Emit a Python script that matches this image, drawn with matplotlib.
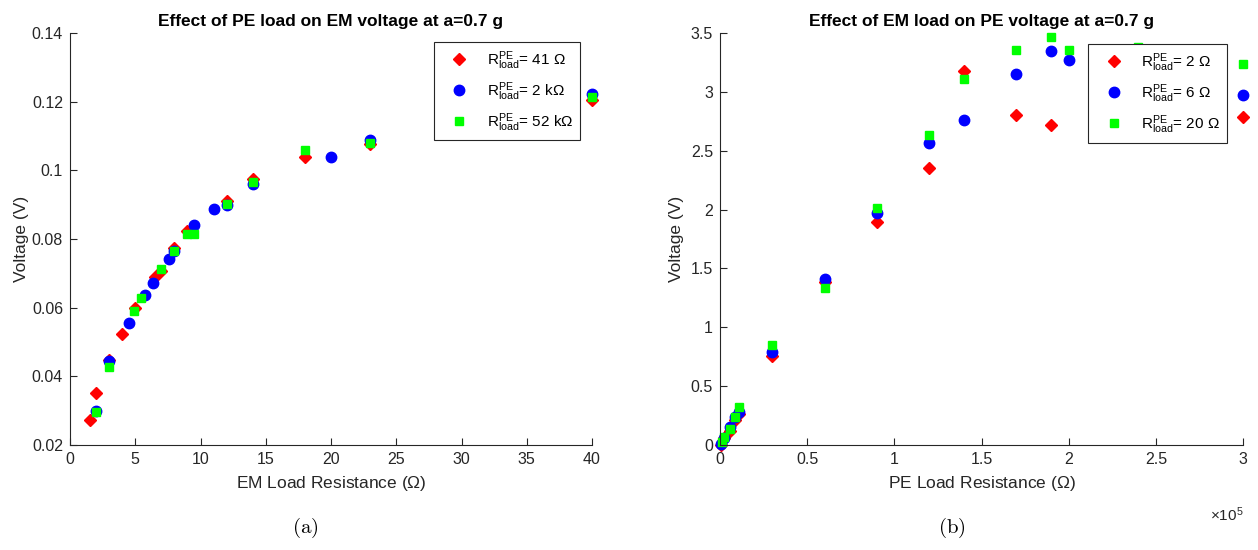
import numpy as np
import matplotlib
matplotlib.use("Agg")
from matplotlib import pyplot as plt
from matplotlib.ticker import FuncFormatter, FixedLocator

plt.rcParams['font.family'] = ['Liberation Sans', 'DejaVu Sans']
plt.rcParams['mathtext.fontset'] = 'custom'
plt.rcParams['mathtext.rm'] = 'Liberation Sans'
plt.rcParams['mathtext.it'] = 'Liberation Sans:italic'

# ---- (a) PE load effect on EM voltage ----
em_r_41 = [1.5, 2, 3, 4, 5, 6.5, 7, 8, 9, 12, 14, 18, 23, 40]
em_v_41 = [0.0273, 0.0352, 0.0447, 0.0523, 0.0598, 0.0690, 0.0708, 0.0773, 0.0823,
           0.0910, 0.0976, 0.1040, 0.1076, 0.1205]

em_r_2k = [2, 3, 4.5, 5.75, 6.35, 7.6, 8, 9.5, 11, 12, 14, 20, 23, 40]
em_v_2k = [0.0300, 0.0445, 0.0556, 0.0637, 0.0672, 0.0743, 0.0765, 0.0842, 0.0886,
           0.0898, 0.0960, 0.1040, 0.1088, 0.1222]

em_r_52k = [2, 3, 4.9, 5.45, 7, 8, 9, 9.5, 12, 14, 18, 23, 40]
em_v_52k = [0.0295, 0.0428, 0.0590, 0.0629, 0.0713, 0.0764, 0.0815, 0.0815, 0.0902,
            0.0965, 0.1060, 0.1080, 0.1213]

# ---- (b) EM load effect on PE voltage ----
pe_r_2 = [500, 2200, 6000, 8600, 11000, 3e4, 6e4, 9e4, 1.2e5, 1.4e5, 1.7e5, 1.9e5,
          2.4e5, 2.7e5, 3e5]
pe_v_2 = [0.0, 0.057, 0.122, 0.213, 0.264, 0.753, 1.386, 1.895, 2.354, 3.175, 2.807,
          2.722, 2.80, 2.62, 2.784]

pe_r_6 = [500, 2200, 6000, 8600, 11000, 3e4, 6e4, 9e4, 1.2e5, 1.4e5, 1.7e5, 1.9e5,
          2e5, 2.4e5, 2.7e5, 3e5]
pe_v_6 = [0.006, 0.057, 0.15, 0.24, 0.284, 0.79, 1.406, 1.97, 2.566, 2.758, 3.152,
          3.344, 3.27, 3.2, 3.05, 2.97]

pe_r_20 = [1200, 2200, 6000, 8600, 11000, 3e4, 6e4, 9e4, 1.2e5, 1.4e5, 1.7e5, 1.9e5,
           2e5, 2.4e5, 2.7e5, 3e5]
pe_v_20 = [0.023, 0.065, 0.136, 0.236, 0.321, 0.852, 1.33, 2.014, 2.63, 3.11, 3.356,
           3.463, 3.356, 3.38, 3.25, 3.237]

labels_a = [r'R$^{\mathrm{PE}}_{\mathrm{load}}$= 41 $\Omega$',
            r'R$^{\mathrm{PE}}_{\mathrm{load}}$= 2 k$\Omega$',
            r'R$^{\mathrm{PE}}_{\mathrm{load}}$= 52 k$\Omega$']
labels_b = [r'R$^{\mathrm{PE}}_{\mathrm{load}}$= 2 $\Omega$',
            r'R$^{\mathrm{PE}}_{\mathrm{load}}$= 6 $\Omega$',
            r'R$^{\mathrm{PE}}_{\mathrm{load}}$= 20 $\Omega$']

W, H = 1258, 550
fig = plt.figure(figsize=(W / 100, H / 100), dpi=100)
ax1 = fig.add_axes([70 / W, 105 / H, 522 / W, 412 / H])
ax2 = fig.add_axes([720 / W, 105 / H, 523 / W, 412 / H])

grey = '#262626'
fmt = FuncFormatter(lambda v, p: '%g' % round(v, 6))


def style(ax):
    for s in ['top', 'right']:
        ax.spines[s].set_visible(False)
    for s in ['left', 'bottom']:
        ax.spines[s].set_color(grey)
        ax.spines[s].set_linewidth(0.8)
    ax.tick_params(direction='in', length=5, width=0.8, color=grey,
                   labelcolor=grey, labelsize=11.5, pad=5)


def scat(ax, xs, ys, labels):
    ax.plot(xs[0], ys[0], 'D', color='red', ms=6, ls='none', label=labels[0], clip_on=False)
    ax.plot(xs[1], ys[1], 'o', color='blue', ms=7.5, ls='none', label=labels[1], clip_on=False)
    ax.plot(xs[2], ys[2], 's', color='#00ff00', ms=5.5, ls='none', label=labels[2], clip_on=False)


def legend(ax, anchor):
    leg = ax.legend(loc='upper right', bbox_to_anchor=anchor, fontsize=11,
                    numpoints=1, handlelength=2.4, handletextpad=0.6, borderpad=0.45,
                    labelspacing=0.55, fancybox=False, framealpha=1, borderaxespad=0)
    leg.get_frame().set_edgecolor(grey)
    leg.get_frame().set_linewidth(0.8)
    return leg


# subplot (a)
scat(ax1, [em_r_41, em_r_2k, em_r_52k], [em_v_41, em_v_2k, em_v_52k], labels_a)
ax1.set_xlim(0, 40)
ax1.set_ylim(0.02, 0.14)
ax1.xaxis.set_major_locator(FixedLocator(np.arange(0, 41, 5)))
ax1.yaxis.set_major_locator(FixedLocator(np.arange(0.02, 0.141, 0.02)))
ax1.yaxis.set_major_formatter(fmt)
ax1.xaxis.set_major_formatter(fmt)
style(ax1)
ax1.set_title('Effect of PE load on EM voltage at a=0.7 g', fontsize=12.5,
              fontweight='bold', pad=5)
ax1.set_xlabel(r'EM Load Resistance ($\Omega$)', fontsize=12.5, color=grey, labelpad=5)
ax1.set_ylabel('Voltage (V)', fontsize=12.5, color=grey, labelpad=2)
legend(ax1, (0.977, 0.978))

# subplot (b)
scat(ax2, [pe_r_2, pe_r_6, pe_r_20], [pe_v_2, pe_v_6, pe_v_20], labels_b)
ax2.set_xlim(0, 3e5)
ax2.set_ylim(0, 3.5)
ax2.xaxis.set_major_locator(FixedLocator(np.arange(0, 3.01e5, 0.5e5)))
ax2.yaxis.set_major_locator(FixedLocator(np.arange(0, 3.51, 0.5)))
ax2.xaxis.set_major_formatter(FuncFormatter(lambda v, p: '%g' % (v / 1e5)))
ax2.yaxis.set_major_formatter(fmt)
style(ax2)
ax2.set_title('Effect of EM load on PE voltage at a=0.7 g', fontsize=12.5,
              fontweight='bold', pad=5)
ax2.set_xlabel(r'PE Load Resistance ($\Omega$)', fontsize=12.5, color=grey, labelpad=5)
ax2.set_ylabel('Voltage (V)', fontsize=12.5, color=grey, labelpad=5)
ax2.text(1.0, -0.17, r'$\times10^{5}$', transform=ax2.transAxes, ha='right',
         va='center', fontsize=11, color=grey)
legend(ax2, (0.969, 0.973))

fig.text(305 / W, 1 - 528 / H, r'$\mathrm{(a)}$', ha='center', va='center',
         fontsize=15, math_fontfamily='cm')
fig.text(952 / W, 1 - 528 / H, r'$\mathrm{(b)}$', ha='center', va='center',
         fontsize=15, math_fontfamily='cm')

fig.savefig('out.png', dpi=100)
